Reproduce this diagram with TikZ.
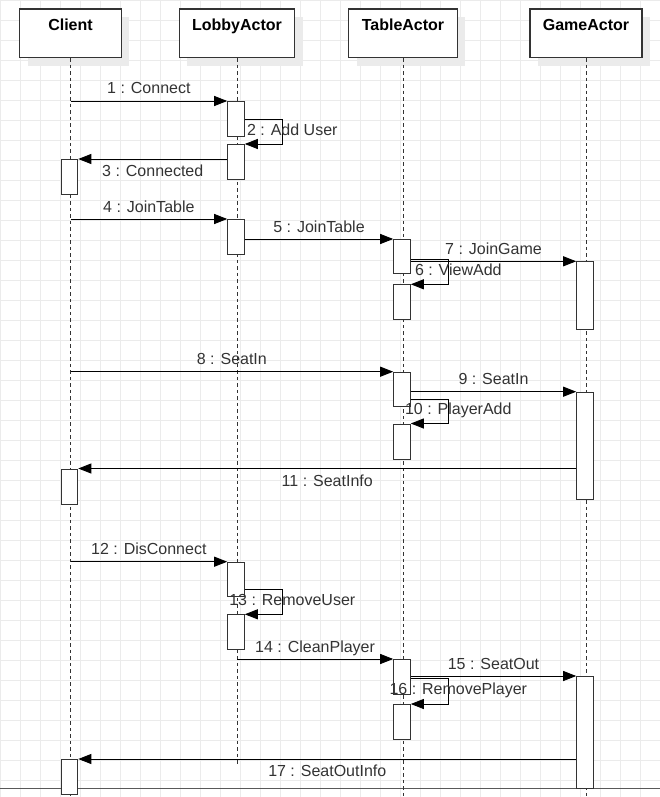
\documentclass[tikz,border=0pt]{standalone}
\usepackage{fontspec}
\setmainfont{Liberation Sans}
\usetikzlibrary{arrows.meta,shadows}

\begin{document}
\begin{tikzpicture}[x=1pt, y=-1pt,
  every node/.style={font=\fontsize{16}{19}\selectfont},
  head/.style={draw=black!80, line width=1.2pt, fill=white, font=\fontsize{16}{19}\selectfont\bfseries,
    inner ysep=9.7pt, text height=12pt, text depth=17.3pt,
    drop shadow={shadow xshift=8pt, shadow yshift=-8pt, fill=black!8, opacity=1}},
  act/.style={draw=black!80, line width=1.1pt, fill=white, minimum width=16.5pt, inner sep=0pt, anchor=north},
  msg/.style={line width=0.9pt, -{Triangle[length=13pt,width=10pt]}},
  life/.style={line width=1pt, black!80, dash pattern=on 3.5pt off 3pt},
  lbl/.style={text=black!80, text height=12pt, text depth=3pt, inner sep=0pt},
  gridline/.style={black!8, line width=0.8pt}]
\useasboundingbox (0,0) rectangle (660,797);

% background grid
\foreach \gx in {0,20,...,660} \draw[gridline] (\gx,0) -- (\gx,797);
\foreach \gy in {0,20,...,797} \draw[gridline] (0,\gy) -- (660,\gy);
\draw[black!65, line width=1pt] (0,788.3) -- (660,788.3);

\coordinate (bot) at (0,797);
\coordinate (lobend) at (0,766.7);

% objects
\node[head, minimum width=101.5pt] (cli) at (70.5,33.3) {Client};
\node[head, minimum width=115.7pt] (lob) at (237,33.3) {LobbyActor};
\node[head, minimum width=108.3pt] (tab) at (403,33.3) {TableActor};
\node[head, minimum width=112pt] (gam) at (586,33.3) {GameActor};

% lifelines
\draw[life] (cli.south) -- (cli.south |- bot);
\draw[life] (lob.south) -- (lob.south |- lobend);
\draw[life] (tab.south) -- (tab.south |- bot);
\draw[life] (gam.south) -- (gam.south |- bot);

% activations
\node[act, minimum height=35pt] (lob1) at (236,101) {};
\node[act, minimum height=35pt] (lob2) at (236,144) {};
\node[act, minimum height=35pt] (lob3) at (236,219) {};
\node[act, minimum height=34.3pt] (lob4) at (236,561.7) {};
\node[act, minimum height=34.7pt] (lob5) at (236,614.3) {};
\node[act, minimum height=35pt] (cli1) at (69.5,159) {};
\node[act, minimum height=35.5pt] (cli2) at (69.5,468.5) {};
\node[act, minimum height=35pt] (cli3) at (69.5,759) {};
\node[act, minimum height=34.3pt] (tab1) at (402,239) {};
\node[act, minimum height=34.4pt] (tab2) at (402,284.3) {};
\node[act, minimum height=34.3pt] (tab3) at (402,371.7) {};
\node[act, minimum height=35.5pt] (tab4) at (402,423.5) {};
\node[act, minimum height=35pt] (tab5) at (402,659) {};
\node[act, minimum height=35pt] (tab6) at (402,704) {};
\node[act, minimum height=67.7pt] (gam1) at (585,261.3) {};
\node[act, minimum height=107pt] (gam2) at (585,391.7) {};
\node[act, minimum height=112.3pt] (gam3) at (585,676) {};

% messages
\draw[msg] (cli |- lob1.north) -- node[lbl, yshift=11.5pt] (m1) {1 : Connect} (lob1.north west);
\draw[msg] (lob1.east) -- ++(37.5,0) |- node[lbl, pos=0.25, xshift=10pt, yshift=1pt] (m2) {2 : Add User} (lob2.north east);
\draw[msg] (lob2.west |- cli1.north) -- node[lbl, yshift=-13pt] (m3) {3 : Connected} (cli1.north east);
\draw[msg] (cli |- lob3.north) -- node[lbl, yshift=11.5pt] (m4) {4 : JoinTable} (lob3.north west);
\draw[msg] (lob3.east |- tab1.north) -- node[lbl, yshift=11.5pt] (m5) {5 : JoinTable} (tab1.north west);
\draw[msg] ([yshift=-3pt]tab1.east) -- ++(37.5,0) |- node[lbl, pos=0.25, xshift=10pt, yshift=1pt] (m6) {6 : ViewAdd} (tab2.north east);
\draw[msg] (tab1.east |- gam1.north) -- node[lbl, yshift=11.5pt] (m7) {7 : JoinGame} (gam1.north west);
\draw[msg] (cli |- tab3.north) -- node[lbl, yshift=11.5pt] (m8) {8 : SeatIn} (tab3.north west);
\draw[msg] (tab3.east |- gam2.north) -- node[lbl, yshift=11.5pt] (m9) {9 : SeatIn} (gam2.north west);
\draw[msg] ([yshift=-10pt]tab3.east) -- ++(37.5,0) |- node[lbl, pos=0.25, xshift=10pt, yshift=1pt] (m10) {10 : PlayerAdd} (tab4.north east);
\draw[msg] (gam2.west |- cli2.north) -- node[lbl, yshift=-13pt] (m11) {11 : SeatInfo} (cli2.north east);
\draw[msg] (cli |- lob4.north) -- node[lbl, yshift=11.5pt] (m12) {12 : DisConnect} (lob4.north west);
\draw[msg] ([yshift=-10pt]lob4.east) -- ++(37.5,0) |- node[lbl, pos=0.25, xshift=10pt, yshift=1pt] (m13) {13 : RemoveUser} (lob5.north east);
\draw[msg] (lob |- tab5.north) -- node[lbl, yshift=11.5pt] (m14) {14 : CleanPlayer} (tab5.north west);
\draw[msg] (tab5.east |- gam3.north) -- node[lbl, yshift=11.5pt] (m15) {15 : SeatOut} (gam3.north west);
\draw[msg] ([yshift=-1.5pt]tab5.east) -- ++(37.5,0) |- node[lbl, pos=0.25, xshift=10pt, yshift=1pt] (m16) {16 : RemovePlayer} (tab6.north east);
\draw[msg] (gam3.west |- cli3.north) -- node[lbl, yshift=-13pt] (m17) {17 : SeatOutInfo} (cli3.north east);
\end{tikzpicture}
\end{document}
